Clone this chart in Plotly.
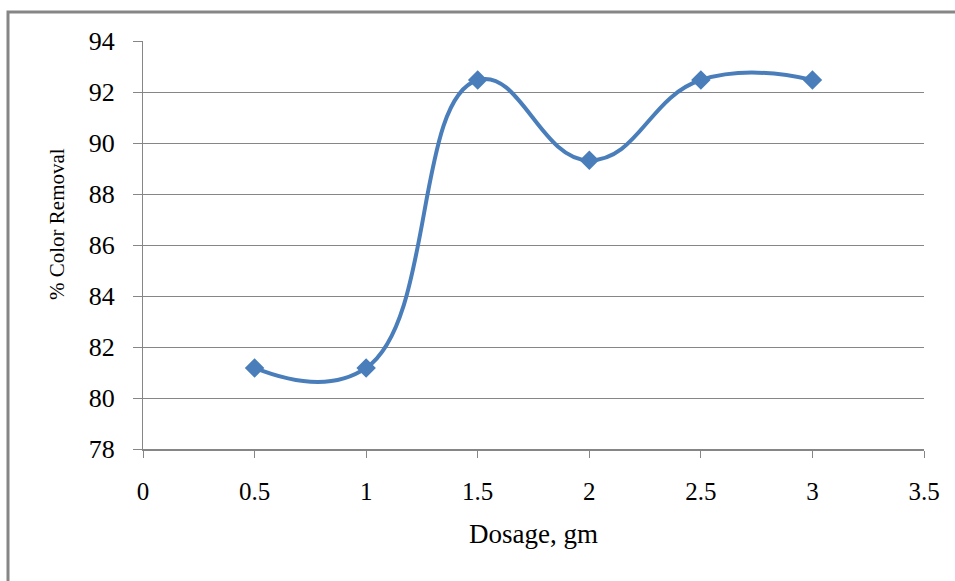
import plotly.graph_objects as go

dosage = [0.5, 1, 1.5, 2, 2.5, 3]
color_removal = [81.18, 81.18, 92.47, 89.32, 92.47, 92.47]
x_ticks = [0, 0.5, 1, 1.5, 2, 2.5, 3, 3.5]
y_ticks = [78, 80, 82, 84, 86, 88, 90, 92, 94]

BLUE = "#4a7ebb"
GRAY = "#868686"
FONT = "Liberation Serif"

fig = go.Figure()
fig.add_trace(go.Scatter(
    x=dosage, y=color_removal, mode="lines+markers",
    line=dict(color=BLUE, width=4, shape="spline", smoothing=1.3),
    marker=dict(symbol="diamond", size=15, color=BLUE),
    showlegend=False, hoverinfo="skip",
))

L, R, T, B = 143, 31, 41, 132
W, H = 955, 581
pw, ph = W - L - R, H - T - B

fig.update_layout(
    width=W, height=H,
    margin=dict(l=L, r=R, t=T, b=B, pad=0),
    paper_bgcolor="white", plot_bgcolor="white",
    font=dict(family=FONT, color="black"),
    xaxis=dict(
        range=[0, 3.5], tickvals=x_ticks, ticktext=[str(v) for v in x_ticks],
        showgrid=False, zeroline=False,
        showline=True, linecolor=GRAY, linewidth=2,
        ticks="outside", ticklen=7, tickcolor=GRAY, tickwidth=1,
        tickfont=dict(family=FONT, size=25, color="black"),
        ticklabelstandoff=12,
        title=dict(text="Dosage, gm", font=dict(family=FONT, size=27, color="black"), standoff=20),
    ),
    yaxis=dict(
        range=[78, 94], tickvals=y_ticks,
        showgrid=True, gridcolor=GRAY, gridwidth=1,
        zeroline=False,
        showline=True, linecolor=GRAY, linewidth=1,
        ticks="outside", ticklen=9, tickcolor=GRAY, tickwidth=1,
        tickfont=dict(family=FONT, size=26, color="black"),
        ticklabelstandoff=13,
    ),
    annotations=[dict(
        text="% Color Removal", textangle=-90, showarrow=False,
        xref="paper", yref="paper",
        x=(57 - L) / pw, y=(H - B - 224) / ph, xanchor="center", yanchor="middle",
        font=dict(family=FONT, size=21, color="black"),
    )],
    shapes=[dict(
        type="rect", xref="paper", yref="paper",
        x0=(8 - L) / pw, x1=(965 - L) / pw,
        y0=(H - B - 595) / ph, y1=(H - B - 12) / ph,
        line=dict(color=GRAY, width=3), fillcolor="rgba(0,0,0,0)", layer="below",
    )],
)

fig.write_html("out.html")
